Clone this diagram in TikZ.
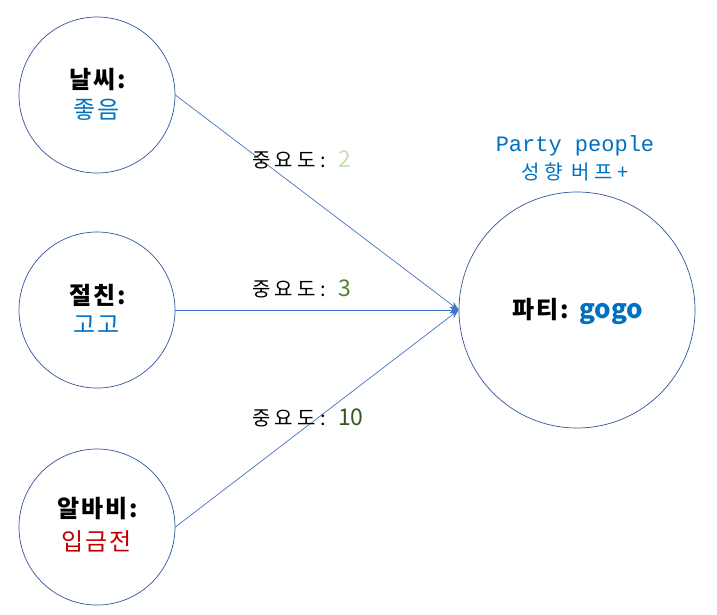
\documentclass[tikz,border=0pt]{standalone}
\usepackage{fontspec}
\setmainfont{Noto Sans CJK KR}
\newfontfamily\kr[LetterSpace=8]{Noto Sans CJK KR}
\newfontfamily\krl[LetterSpace=22]{Noto Sans CJK KR}
\newfontfamily\plain{Noto Sans CJK KR}
\newfontfamily\mono{Liberation Mono}
\usetikzlibrary{arrows.meta}
\definecolor{edgeblue}{HTML}{2F5597}
\definecolor{lineblue}{HTML}{4472C4}
\definecolor{txtblue}{HTML}{0070C0}
\definecolor{txtred}{HTML}{C00000}
\definecolor{g1}{HTML}{C5E0B4}
\definecolor{g2}{HTML}{548235}
\definecolor{g3}{HTML}{375623}
\newcommand{\numtxt}[2]{\textcolor{#1}{\plain\fontsize{23pt}{26pt}\selectfont #2}}
\tikzset{
  bubble/.style={circle,draw=edgeblue,line width=0.7pt,inner sep=0pt,minimum size=156pt},
  bigbubble/.style={circle,draw=edgeblue,line width=0.7pt,inner sep=0pt,minimum size=236pt},
  conn/.style={draw=lineblue,line width=0.7pt,-{Stealth[length=9pt,width=7pt]}},
  head/.style={font=\kr\fontsize{24pt}{28pt}\selectfont\bfseries,inner sep=0pt},
  val/.style={font=\kr\fontsize{24pt}{28pt}\selectfont,inner sep=0pt},
  wlabel/.style={font=\krl\fontsize{20pt}{24pt}\selectfont,inner sep=1pt,anchor=west}
}
\begin{document}
\begin{tikzpicture}[x=1pt,y=-1pt]
\useasboundingbox (0,0) rectangle (717,614);
\node[bubble] (a) at (97,95) {};
\node[bubble] (b) at (97,310) {};
\node[bubble] (c) at (97,527) {};
\node[bigbubble] (p) at (577,310) {};
\node[head] (ah) at (98,80) {날씨:};
\node[val,text=txtblue] (av) at (97,110) {좋음};
\node[head] (bh) at (98,295) {절친:};
\node[val,text=txtblue] (bv) at (97,325) {고고};
\node[head] (ch) at (98,509) {알바비:};
\node[val,text=txtred] (cv) at (97,541) {입금전};
\node[head] (ph) at (578,311) {파티: \textcolor{txtblue}{\plain\bfseries\fontsize{26pt}{30pt}\selectfont gogo}};
\node[font=\mono\fontsize{22pt}{26pt}\selectfont,text=txtblue,inner sep=0pt] (pp) at (575,146) {Party people};
\node[font=\krl\fontsize{20pt}{24pt}\selectfont,text=txtblue,inner sep=0pt] (pb) at (575,172) {성향 버프+};
\draw[conn] (a.east) -- (p.west);
\draw[conn] (b.east) -- (p.west);
\draw[conn] (c.east) -- (p.west);
\node[wlabel] (l1) at (251,160) {중요도: \numtxt{g1}{2}};
\node[wlabel] (l2) at (251,289) {중요도: \numtxt{g2}{3}};
\node[wlabel] (l3) at (251,418) {중요도: \numtxt{g3}{10}};
\end{tikzpicture}
\end{document}
